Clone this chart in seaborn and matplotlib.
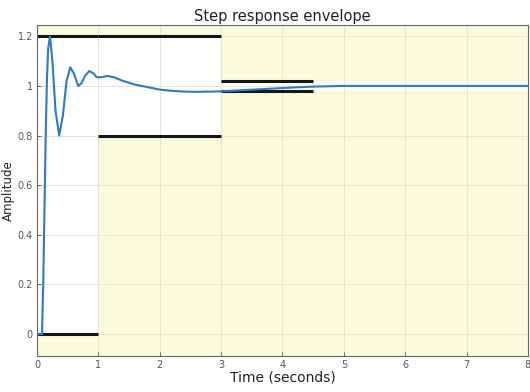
#!/usr/bin/env python3
"""Step response with its allowed envelope (MATLAB-style look)."""
import matplotlib
matplotlib.use('Agg')
import matplotlib.pyplot as plt
import pandas as pd
import seaborn as sns

# step response
time_s = [0.0, 0.08, 0.10, 0.12, 0.14, 0.16, 0.18, 0.21, 0.25, 0.30, 0.36,
          0.42, 0.48, 0.54, 0.60, 0.67, 0.72, 0.78, 0.85, 0.92, 0.97, 1.05,
          1.14, 1.25, 1.40, 1.60, 1.80, 2.00, 2.20, 2.40, 2.60, 2.80, 3.00,
          3.30, 3.60, 3.90, 4.20, 4.50, 5.00, 6.00, 7.00, 8.00]
amplitude = [0.0, 0.0, 0.20, 0.50, 0.80, 1.02, 1.15, 1.20, 1.10, 0.90, 0.80,
             0.88, 1.02, 1.075, 1.05, 1.00, 1.01, 1.04, 1.06, 1.05, 1.035,
             1.035, 1.04, 1.035, 1.02, 1.005, 0.995, 0.985, 0.98, 0.977,
             0.976, 0.977, 0.978, 0.982, 0.986, 0.99, 0.994, 0.997, 1.0,
             1.0, 1.0, 1.0]

# envelope bounds (drawn in black) and allowed region (left white)
bound_start = [0, 1, 3]
bound_end = [1, 3, 4.5]
bound_upper = [1.2, 1.2, 1.02]
bound_lower = [0.0, 0.8, 0.98]

allowed_start = [0, 1, 3]
allowed_end = [1, 3, 8]
allowed_upper = [1.2, 1.2, 1.02]
allowed_lower = [0.0, 0.8, 0.98]

x_ticks = [0, 1, 2, 3, 4, 5, 6, 7, 8]
y_ticks = [0, 0.2, 0.4, 0.6, 0.8, 1.0, 1.2]
y_tick_labels = ['0', '0.2', '0.4', '0.6', '0.8', '1', '1.2']


def main():
    sns.set_theme(style='white')
    plt.rcParams['font.family'] = ['DejaVu Sans']

    fig = plt.figure(figsize=(5.3, 3.92), dpi=100)
    ax = fig.add_axes([0.070, 0.092, 0.926, 0.844])
    ax.set_facecolor('#fbfbdb')

    # white allowed band
    for x0, x1, lo, hi in zip(allowed_start, allowed_end, allowed_lower, allowed_upper):
        ax.fill_between([x0, x1], lo, hi, color='white', lw=0, zorder=0.5)

    ax.grid(True, color='#e6e6d4', lw=0.7, zorder=0.6)
    ax.set_axisbelow(True)

    # envelope lines
    ax.hlines(bound_upper, bound_start, bound_end, color='#151515', lw=2.2, zorder=2)
    ax.hlines(bound_lower, bound_start, bound_end, color='#151515', lw=2.2, zorder=2)

    df = pd.DataFrame({'t': time_s, 'y': amplitude})
    sns.lineplot(data=df, x='t', y='y', ax=ax, color='#2b7cc2', lw=1.5, zorder=3)

    ax.set_xlim(0, 8)
    ax.set_ylim(-0.088, 1.245)
    ax.set_xticks(x_ticks)
    ax.set_yticks(y_ticks)
    ax.set_yticklabels(y_tick_labels)
    ax.tick_params(direction='in', length=3, width=0.6, labelsize=7,
                   colors='#555555', pad=3, bottom=True, left=True)
    for sp in ax.spines.values():
        sp.set_color('#666666')
        sp.set_linewidth(0.8)

    ax.set_title('Step response envelope', fontsize=10.5, color='#222222', pad=3)
    ax.set_xlabel('Time (seconds)', fontsize=10, color='#222222', labelpad=0)
    ax.set_ylabel('Amplitude', fontsize=8.5, color='#222222', labelpad=2)

    fig.savefig('out.png', dpi=100)
    plt.close(fig)


if __name__ == '__main__':
    main()
